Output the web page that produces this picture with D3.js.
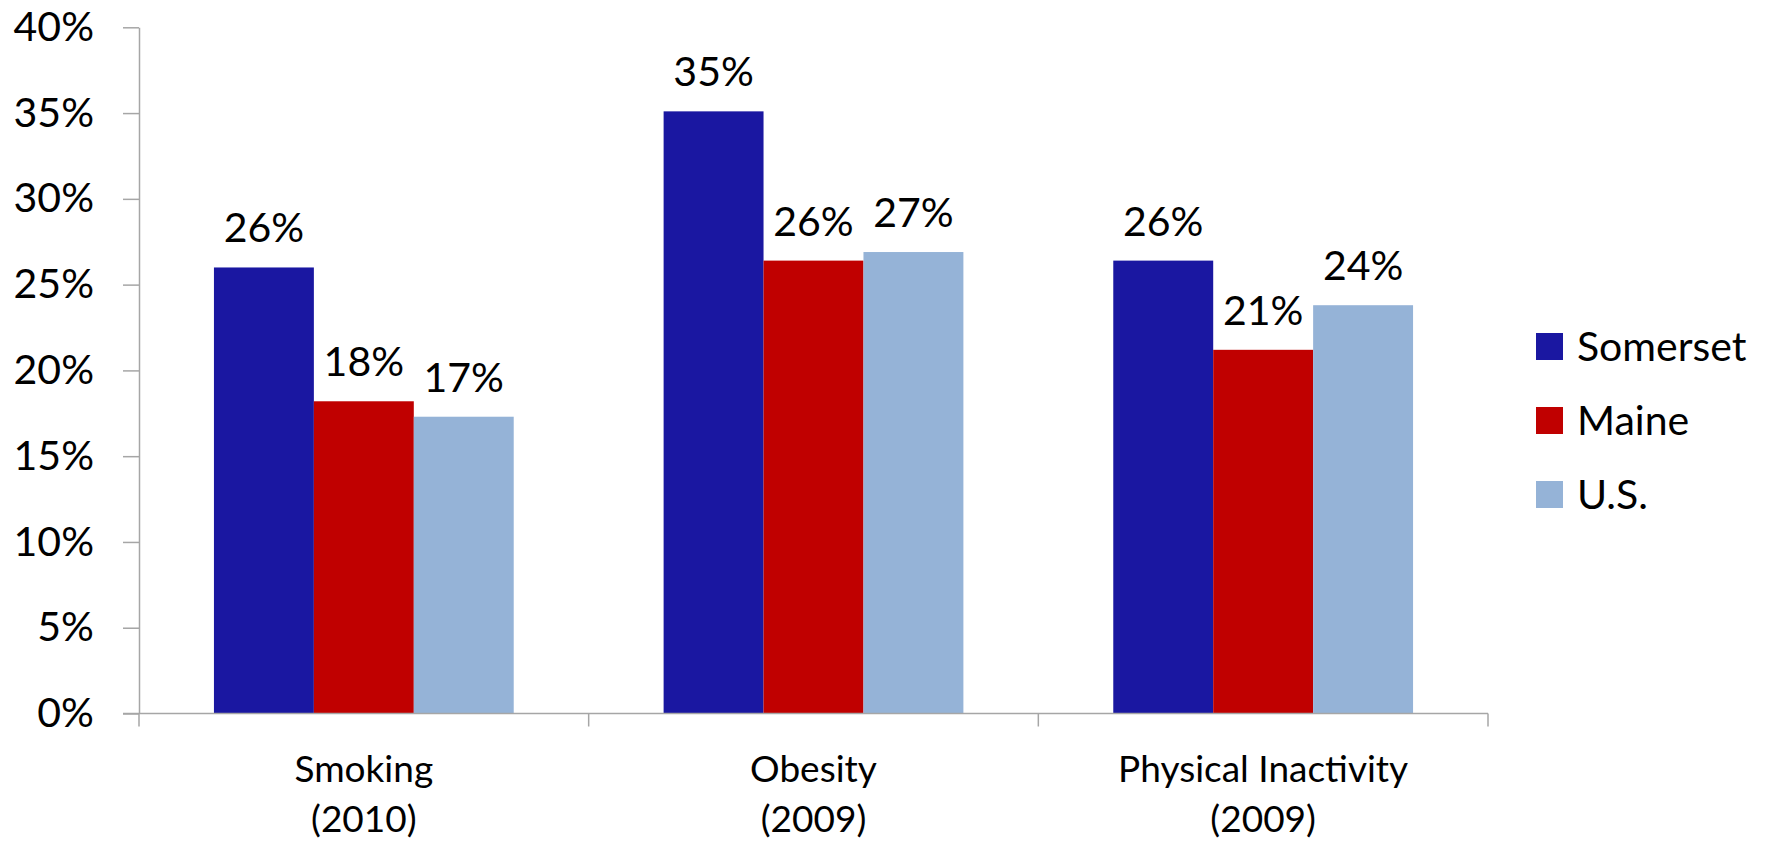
<html>
<head>
    <meta charset="utf-8">
    <title>Somerset vs Maine vs U.S.</title>
    <style>
        body {
            padding: 0;
            margin: 0;
            background: white;
            font-family: Lato, "Open Sans", sans-serif;
        }

        .axis line, .axis path {
            stroke: #a6a6a6;
            stroke-width: 1.5;
        }

        text {
            fill: black;
        }
    </style>
</head>
<body>

    <div id="chart"></div>

    <script src="https://d3js.org/d3.v7.min.js"></script>

    <script>
        var categories = ["Smoking|(2010)", "Obesity|(2009)", "Physical Inactivity|(2009)"];
        var series = ["Somerset", "Maine", "U.S."];
        var somerset = [0.26, 0.351, 0.264];
        var maine = [0.182, 0.264, 0.212];
        var us = [0.173, 0.269, 0.238];
        var colors = ["#1a17a1", "#c00000", "#95b3d7"];
        var yTicks = [0, 0.05, 0.1, 0.15, 0.2, 0.25, 0.3, 0.35, 0.4];

        var values = [somerset, maine, us];

        var width = 1779,
            height = 841,
            margin = {top: 27.3, left: 139, right: 291, bottom: 127.5};

        var svg = d3.select("#chart")
            .append("svg")
            .attr("width", width)
            .attr("height", height);

        var x0 = d3.scaleBand()
            .domain(categories)
            .range([margin.left, width - margin.right]);

        var x1 = d3.scaleBand()
            .domain(series)
            .range([0, x0.bandwidth()])
            .paddingOuter(0.75);

        var y = d3.scaleLinear()
            .domain([0, 0.4])
            .range([height - margin.bottom, margin.top]);

        // y axis
        var yAxis = svg.append("g")
            .attr("class", "axis")
            .attr("transform", "translate(" + margin.left + ",0)")
            .call(d3.axisLeft(y)
                .tickValues(yTicks)
                .tickFormat(d3.format(".0%"))
                .tickSize(16)
                .tickSizeOuter(0)
                .tickPadding(29));

        yAxis.selectAll("text")
            .style("font-family", "Lato, sans-serif")
            .style("font-size", "41px")
            .attr("fill", "black");

        // bars
        var groups = svg.append("g")
            .selectAll("g")
            .data(categories)
            .enter()
            .append("g")
            .attr("transform", function (d) { return "translate(" + x0(d) + ",0)"; });

        groups.selectAll("rect")
            .data(function (d, i) {
                return series.map(function (s, j) { return {s: s, v: values[j][i], c: colors[j]}; });
            })
            .enter()
            .append("rect")
            .attr("x", function (d) { return x1(d.s); })
            .attr("y", function (d) { return y(d.v); })
            .attr("width", x1.bandwidth())
            .attr("height", function (d) { return y(0) - y(d.v); })
            .attr("fill", function (d) { return d.c; });

        groups.selectAll("text.val")
            .data(function (d, i) {
                return series.map(function (s, j) { return {s: s, v: values[j][i]}; });
            })
            .enter()
            .append("text")
            .attr("class", "val")
            .attr("x", function (d) { return x1(d.s) + x1.bandwidth() / 2; })
            .attr("y", function (d) { return y(d.v) - 25; })
            .attr("text-anchor", "middle")
            .style("font-size", "41px")
            .text(function (d) { return d3.format(".0%")(d.v); });

        // x axis line with category boundary ticks
        var xAxis = svg.append("g").attr("class", "axis");

        xAxis.append("line")
            .attr("x1", margin.left - 16)
            .attr("x2", x0.range()[1])
            .attr("y1", y(0))
            .attr("y2", y(0));

        var bounds = categories.map(function (c) { return x0(c); }).concat([x0.range()[1]]);

        xAxis.selectAll("line.tick")
            .data(bounds)
            .enter()
            .append("line")
            .attr("class", "tick")
            .attr("x1", function (d) { return d; })
            .attr("x2", function (d) { return d; })
            .attr("y1", y(0))
            .attr("y2", y(0) + 13);

        // category labels (two lines)
        var labels = svg.append("g")
            .selectAll("text")
            .data(categories)
            .enter()
            .append("text")
            .attr("text-anchor", "middle")
            .style("font-size", "37px");

        labels.selectAll("tspan")
            .data(function (d) {
                return d.split("|").map(function (t) { return {t: t, c: d}; });
            })
            .enter()
            .append("tspan")
            .attr("x", function (d) { return x0(d.c) + x0.bandwidth() / 2; })
            .attr("y", function (d, i) { return y(0) + 68 + i * 50; })
            .text(function (d) { return d.t; });

        // legend
        var legend = svg.append("g")
            .attr("transform", "translate(1536,333)")
            .selectAll("g")
            .data(series)
            .enter()
            .append("g")
            .attr("transform", function (d, i) { return "translate(0," + (i * 74) + ")"; });

        legend.append("rect")
            .attr("width", 27)
            .attr("height", 27)
            .attr("fill", function (d, i) { return colors[i]; });

        legend.append("text")
            .attr("x", 41)
            .attr("y", 13.5)
            .attr("dy", "0.36em")
            .style("font-size", "41px")
            .text(function (d) { return d; });
    </script>
</body>
</html>
